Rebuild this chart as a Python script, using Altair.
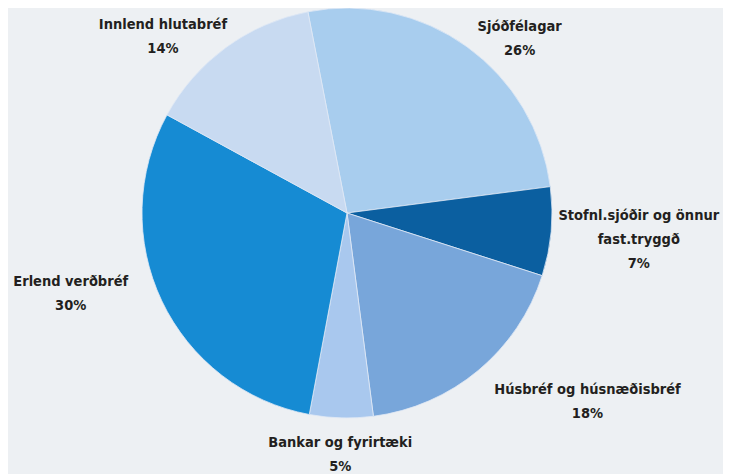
import math
import altair as alt
import pandas as pd

# ---- data (clockwise from top) ----
categories = [
    "Sjóðfélagar",
    "Stofnl.sjóðir og önnur fast.tryggð",
    "Húsbréf og húsnæðisbréf",
    "Bankar og fyrirtæki",
    "Erlend verðbréf",
    "Innlend hlutabréf",
]
label_names = [
    "Sjóðfélagar",
    "Stofnl.sjóðir og önnur\nfast.tryggð",
    "Húsbréf og húsnæðisbréf",
    "Bankar og fyrirtæki",
    "Erlend verðbréf",
    "Innlend hlutabréf",
]
values = [26, 7, 18, 5, 30, 14]

# ---- styling / layout ----
colors = ["#a8cdee", "#0b5fa0", "#78a6da", "#a9c8ee", "#168bd3", "#c8daf1"]
start_deg = -11.0
# label placement: angular shift from slice middle (deg) and distance from centre (px)
label_shift_deg = [9, 0, -12, 0, 9, -10]
label_radius = [245, 293, 306, 242, 288, 255]

mids = []
cum = 0.0
for v in values:
    mids.append(start_deg + (cum + v / 2) / 100 * 360)
    cum += v
label_theta = [math.radians(m + s) for m, s in zip(mids, label_shift_deg)]

df = pd.DataFrame({
    "category": categories,
    "value": values,
    "order": list(range(len(values))),
    "label": [f"{n}\n{v}%" for n, v in zip(label_names, values)],
    "lines": [n.count("\n") + 2 for n in label_names],
    "label_theta": label_theta,
    "label_r": label_radius,
})

s = math.radians(start_deg)

pie = alt.Chart(df).mark_arc(outerRadius=205, stroke="#dfe9f5", strokeWidth=0.8).encode(
    theta=alt.Theta("value:Q", stack=True, scale=alt.Scale(range=[s, s + 2 * math.pi])),
    color=alt.Color("category:N", scale=alt.Scale(domain=categories, range=colors), legend=None),
    order=alt.Order("order:Q"),
)

font = "DejaVu Sans Condensed, Roboto Condensed, Liberation Sans Narrow, Roboto, sans-serif"


def label_layer(n_lines):
    return alt.Chart(df).transform_filter(alt.datum.lines == n_lines).mark_text(
        font=font,
        fontSize=14.5,
        fontWeight="bold",
        color="#231f20",
        lineBreak="\n",
        lineHeight=24,
        align="center",
        baseline="middle",
        dy=-12 * (n_lines - 1),
    ).encode(
        theta=alt.Theta("label_theta:Q", scale=None, stack=False),
        radius=alt.Radius("label_r:Q", scale=None),
        text="label:N",
    )


chart = (
    alt.layer(pie, label_layer(2), label_layer(3))
    .properties(
        width=678,
        height=410,
        autosize=alt.AutoSizeParams(type="none"),
        padding={"left": 0, "top": 0, "right": 37, "bottom": 56},
        background="#edf0f3",
    )
    .configure_view(stroke=None)
)

chart.save("out.html", embed_options={"renderer": "svg", "actions": False})
